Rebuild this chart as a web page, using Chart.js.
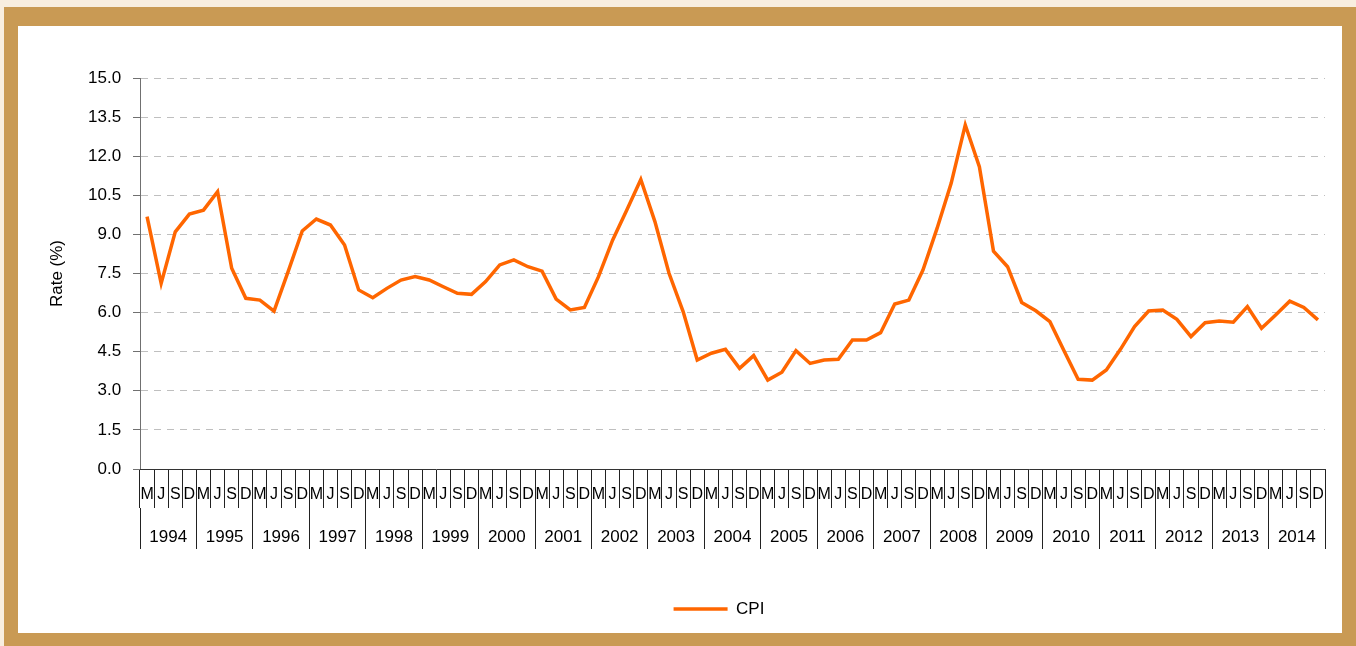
<!DOCTYPE html>
<html>
<head>
<meta charset="utf-8">
<title>CPI</title>
<script src="https://cdn.jsdelivr.net/npm/chart.js@4.4.1/dist/chart.umd.min.js"></script>
<style>
    html, body { margin: 0; padding: 0; background: #f8eee0; overflow: hidden; }
    .frame { position: absolute; left: 4px; top: 7px; width: 1352px; height: 639px; background: #c99a54; }
    .panel { position: absolute; left: 14px; top: 19px; width: 1324px; height: 607px; background: #fff; }
    #cpi-chart { display: block; }
</style>
</head>
<body>
<div class="frame">
    <div class="panel">
        <canvas id="cpi-chart" width="1324" height="607"></canvas>
    </div>
</div>
<script>
var years = ["1994", "1995", "1996", "1997", "1998", "1999", "2000", "2001", "2002", "2003", "2004",
             "2005", "2006", "2007", "2008", "2009", "2010", "2011", "2012", "2013", "2014"];
var quarters = ["M", "J", "S", "D"];
var cpi = [
    9.68, 7.12, 9.10, 9.78,
    9.93, 10.64, 7.70, 6.55,
    6.48, 6.06, 7.57, 9.13,
    9.59, 9.36, 8.59, 6.87,
    6.57, 6.93, 7.25, 7.38,
    7.25, 6.99, 6.74, 6.70,
    7.19, 7.83, 8.02, 7.76,
    7.59, 6.52, 6.10, 6.20,
    7.38, 8.78, 9.93, 11.11,
    9.49, 7.51, 6.04, 4.18,
    4.44, 4.59, 3.86, 4.35,
    3.41, 3.71, 4.54, 4.05,
    4.18, 4.21, 4.95, 4.95,
    5.23, 6.33, 6.48, 7.63,
    9.23, 10.96, 13.20, 11.60,
    8.36, 7.76, 6.39, 6.07,
    5.65, 4.54, 3.44, 3.41,
    3.80, 4.59, 5.46, 6.06,
    6.10, 5.74, 5.08, 5.61,
    5.68, 5.63, 6.23, 5.40,
    5.91, 6.44, 6.20, 5.72
];
var yTicks = ["0.0", "1.5", "3.0", "4.5", "6.0", "7.5", "9.0", "10.5", "12.0", "13.5", "15.0"];

(function () {
    "use strict";

    // one M/J/S/D label per quarter
    var quarterLabels = [];
    years.forEach(function () {
        quarters.forEach(function (q) { quarterLabels.push(q); });
    });

    // Chart Global
    Chart.defaults.font.family = "'Liberation Sans', Arial, sans-serif";
    Chart.defaults.font.size = 17;
    Chart.defaults.color = "#000";

    // Line Chart
    var ctx = document.getElementById("cpi-chart").getContext("2d");
    var cpiChart = new Chart(ctx, {
        type: "line",
        data: {
            labels: quarterLabels,
            datasets: [{
                label: "CPI",
                data: cpi,
                borderColor: "#ff6600",
                backgroundColor: "#ff6600",
                borderWidth: 3.5,
                pointRadius: 0,
                tension: 0,
                fill: false
            }]
        },
        options: {
            responsive: false,
            maintainAspectRatio: false,
            animation: false,
            layout: {
                // left padding keeps the legend centred where the original has it
                padding: { left: 95, right: 17, top: 52, bottom: 5.5 }
            },
            plugins: {
                tooltip: { enabled: false },
                legend: {
                    position: "bottom",
                    labels: {
                        usePointStyle: true,
                        pointStyle: "line",
                        pointStyleWidth: 54,
                        boxHeight: 17,
                        padding: 10,
                        color: "#000",
                        font: { size: 17 }
                    }
                }
            },
            scales: {
                y: {
                    min: 0,
                    max: 15,
                    afterBuildTicks: function (scale) {
                        scale.ticks = yTicks.map(function (t) { return { value: parseFloat(t) }; });
                    },
                    ticks: {
                        // mirrored so the labels are not clipped to the narrow axis box
                        mirror: true,
                        crossAlign: "far",
                        padding: -52,
                        color: "#000",
                        callback: function (value) { return value.toFixed(1); }
                    },
                    grid: {
                        color: "#bfbfbf",
                        tickColor: "#707070",
                        tickLength: 7
                    },
                    border: { color: "#707070", dash: [7, 6] },
                    title: {
                        display: true,
                        text: "Rate (%)",
                        color: "#000",
                        font: { size: 17 },
                        padding: { top: -66, bottom: 0 }
                    },
                    afterFit: function (scale) { scale.width = 27; }
                },
                x: {
                    offset: true,
                    ticks: {
                        autoSkip: false,
                        maxRotation: 0,
                        minRotation: 0,
                        padding: -22.6,
                        color: "#000",
                        font: { size: 16 }
                    },
                    grid: {
                        offset: true,
                        drawOnChartArea: false,
                        tickLength: 39,
                        tickColor: "#222"
                    },
                    border: { color: "#333" },
                    afterFit: function (scale) { scale.height = 39; }
                },
                x2: {
                    type: "category",
                    position: "bottom",
                    weight: 1,
                    labels: years,
                    offset: true,
                    ticks: {
                        autoSkip: false,
                        maxRotation: 0,
                        minRotation: 0,
                        padding: -22.2,
                        color: "#000",
                        font: { size: 17 }
                    },
                    grid: {
                        offset: true,
                        drawOnChartArea: false,
                        tickLength: 41,
                        tickColor: "#222"
                    },
                    border: { display: false },
                    afterFit: function (scale) { scale.height = 82.5; }
                }
            }
        }
    });
})();
</script>
</body>
</html>
